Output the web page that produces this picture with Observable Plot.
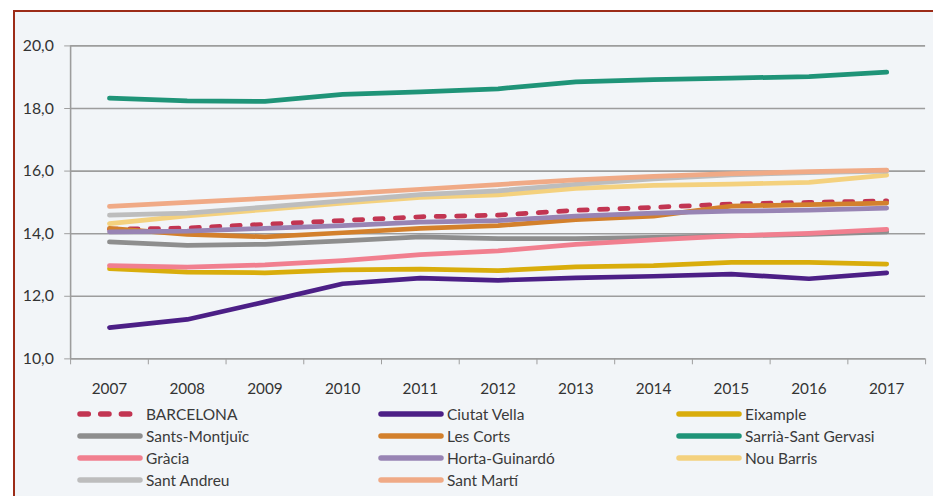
<!DOCTYPE html>
<html>
<head>
<meta charset="utf-8">
<script src="https://cdn.jsdelivr.net/npm/d3@7"></script>
<script src="https://cdn.jsdelivr.net/npm/@observablehq/plot@0.6"></script>
<style>
  html, body { margin: 0; padding: 0; background: #ffffff; overflow: hidden; width: 933px; height: 496px; }
  #frame { position: absolute; left: 13px; top: 10px; width: 1000px; height: 600px;
           border-left: 2px solid #9c2c18; border-top: 2px solid #9c2c18; background: #f2f5f8; }
  #chart { position: absolute; left: 0; top: 0; }
  #legend { position: absolute; left: 0; top: 403px; width: 933px; font-family: Lato, "Open Sans", sans-serif;
            font-size: 15.5px; color: #3a3a3a; }
  .item { position: absolute; height: 22px; display: flex; align-items: center; white-space: nowrap; }
  .item svg { margin-right: 3px; }
</style>
</head>
<body>
<div id="frame"></div>
<div id="chart"></div>
<div id="legend"></div>
<script>
const years = [2007, 2008, 2009, 2010, 2011, 2012, 2013, 2014, 2015, 2016, 2017];
const yTicks = [10, 12, 14, 16, 18, 20];

const names = ["BARCELONA", "Ciutat Vella", "Eixample", "Sants-Montjuïc", "Les Corts", "Sarrià-Sant Gervasi",
               "Gràcia", "Horta-Guinardó", "Nou Barris", "Sant Andreu", "Sant Martí"];
const colors = ["#c23552", "#4c1f86", "#d9ad0c", "#8e8e8e", "#d3802c", "#1f9478",
                "#f17f8f", "#9884b4", "#f4d17e", "#bdbdbd", "#f0aa86"];

const barcelona     = [14.14, 14.18, 14.30, 14.42, 14.54, 14.59, 14.75, 14.84, 14.95, 15.00, 15.05];
const ciutatVella   = [11.00, 11.26, 11.82, 12.40, 12.58, 12.51, 12.59, 12.64, 12.71, 12.56, 12.75];
const eixample      = [12.88, 12.77, 12.75, 12.84, 12.87, 12.82, 12.94, 12.98, 13.08, 13.08, 13.03];
const santsMontjuic = [13.74, 13.63, 13.66, 13.77, 13.90, 13.84, 13.84, 13.88, 13.93, 13.98, 14.06];
const lesCorts      = [14.17, 13.98, 13.90, 14.03, 14.17, 14.26, 14.45, 14.56, 14.88, 14.93, 14.98];
const sarria        = [18.33, 18.24, 18.23, 18.45, 18.53, 18.63, 18.85, 18.92, 18.97, 19.02, 19.16];
const gracia        = [12.98, 12.93, 13.00, 13.14, 13.33, 13.45, 13.66, 13.80, 13.93, 14.01, 14.14];
const hortaGuinardo = [14.06, 14.08, 14.17, 14.26, 14.37, 14.42, 14.56, 14.66, 14.72, 14.75, 14.82];
const nouBarris     = [14.32, 14.57, 14.77, 14.98, 15.16, 15.24, 15.45, 15.54, 15.58, 15.64, 15.87];
const santAndreu    = [14.59, 14.66, 14.85, 15.05, 15.25, 15.37, 15.58, 15.75, 15.88, 15.95, 16.00];
const santMarti     = [14.87, 15.00, 15.13, 15.27, 15.42, 15.57, 15.72, 15.83, 15.92, 15.98, 16.03];

const values = [barcelona, ciutatVella, eixample, santsMontjuic, lesCorts, sarria,
                gracia, hortaGuinardo, nouBarris, santAndreu, santMarti];

const seriesData = names.map((name, i) => years.map((year, j) => ({name, year, value: values[i][j]})));

const font = 'Lato, "Open Sans", sans-serif';
const gridColor = "#9d9d9d";
const boundaries = d3.range(years[0] - 0.5, years[years.length - 1] + 1, 1);
const dashPattern = "8.3,12.4";

const lineMarks = seriesData.map((d, i) => Plot.line(d, {
  x: "year", y: "value",
  stroke: colors[i], strokeWidth: 4.8,
  strokeLinecap: "round", strokeLinejoin: "round",
  strokeDasharray: i === 0 ? dashPattern : null
}));

const chart = Plot.plot({
  width: 945,
  height: 400,
  marginLeft: 71,
  marginRight: 8,
  marginTop: 46,
  marginBottom: 37,
  style: {background: "transparent", fontFamily: font, overflow: "visible"},
  x: {type: "linear", domain: [years[0] - 0.5, years[years.length - 1] + 0.5]},
  y: {domain: [10, 20]},
  marks: [
    Plot.ruleY(yTicks.slice(1), {stroke: gridColor, strokeWidth: 1.6}),
    Plot.ruleY([10], {stroke: gridColor, strokeWidth: 1.6}),
    Plot.ruleX([years[0] - 0.5], {y1: 10, y2: 20, stroke: gridColor, strokeWidth: 1.6}),
    Plot.axisY({ticks: yTicks, tickSize: 6, tickPadding: 11, stroke: gridColor,
                tickFormat: d => d.toFixed(1).replace(".", ","), fontSize: 16, color: "#333", label: null}),
    Plot.axisX({ticks: boundaries, tickSize: 6, stroke: gridColor, tickFormat: () => "", label: null}),
    Plot.axisX({ticks: years, tickSize: 0, tickPadding: 25, tickFormat: d => String(d),
                fontSize: 15.5, color: "#333", label: null}),
    ...lineMarks
  ]
});
document.getElementById("chart").appendChild(chart);

// Legend
const legend = document.getElementById("legend");
const colX = [77, 378, 676];
names.forEach((name, i) => {
  const row = Math.floor(i / 3), col = i % 3;
  const item = document.createElement("div");
  item.className = "item";
  item.style.left = colX[col] + "px";
  item.style.top = (row * 22) + "px";
  const dash = i === 0 ? `stroke-dasharray="${dashPattern}"` : "";
  item.innerHTML = `<svg width="66" height="10"><line x1="3" y1="5" x2="${i === 0 ? 60 : 63}" y2="5" stroke="${colors[i]}" stroke-width="5.5" stroke-linecap="round" ${dash}/></svg><span>${name}</span>`;
  legend.appendChild(item);
});
</script>
</body>
</html>
